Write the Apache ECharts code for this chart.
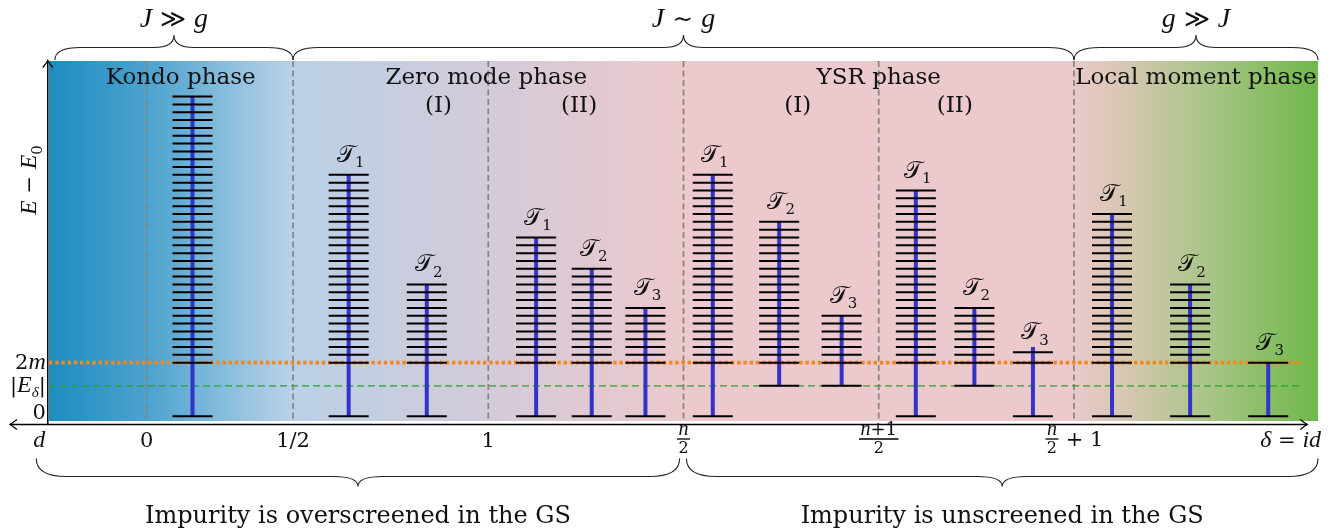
<!DOCTYPE html>
<html>
<head>
<meta charset="utf-8">
<title>Phase diagram</title>
<script src="https://cdn.jsdelivr.net/npm/echarts@6.0.0/dist/echarts.min.js"></script>
<style>
  html, body { margin: 0; padding: 0; background: #fff; }
  #chart { width: 1344px; height: 531px; }
</style>
</head>
<body>
<div id="chart"></div>
<script>
// x: one unit = half the distance between two phase borders, y: one unit = one level spacing
const xRange = [0, 13];
const yRange = [-0.6, 45.4];
const twoM = 6.85;     // 2m
const eDelta = 3.9;    // |E_delta|

// phase borders and titles
const dividers = [1, 2.5, 4.5, 6.5, 8.5, 10.5];
const phaseNames = ['Kondo phase', 'Zero mode phase', 'YSR phase', 'Local moment phase'];
const phaseX = [1.35, 4.48, 8.5, 11.75];
const subPhaseNames = ['(I)', '(II)', '(I)', '(II)'];
const subPhaseX = [3.99, 5.43, 7.67, 9.28];

// level stacks
const stackX = [1.47, 3.07, 3.87, 4.99, 5.56, 6.11, 6.80, 7.48, 8.12, 8.88, 9.48, 10.08, 10.89, 11.69, 12.49];
const stackLevels = [34, 24, 10, 16, 12, 7, 24, 18, 6, 22, 7, 1, 19, 10, 0]; // levels above 2m
const stackStep = [1, 1, 1, 1, 1, 1, 1, 1, 1, 1, 1, 1.33, 1, 1, 1];
const stackBottom = [0, 0, 0, 0, 0, 0, 0, eDelta, eDelta, 0, eDelta, 0, 0, 0, 0];
const stackBlueExtra = [0, 0, 0, 0, 0, 0, 0, 0, 0, 0, 0, 0.68, 0, 0, 0];
const stackTag = ['', '1', '2', '1', '2', '3', '1', '2', '3', '1', '2', '3', '1', '2', '3'];

// braces
const regimeFrom = [0.06, 2.5, 10.5];
const regimeTo = [2.5, 10.5, 13];
const regimeText = ['J ≫ g', 'J ∼ g', 'g ≫ J'];
const screenFrom = [-0.13, 6.53];
const screenTo = [6.46, 13];
const screenText = ['Impurity is overscreened in the GS', 'Impurity is unscreened in the GS'];

// delta axis labels
const tickX = [-0.1, 1, 2.5, 4.5, 6.5, 8.5, 10.5, 12.72];
const tickText = ['d', '0', '1/2', '1', '', '', ' + 1', 'δ = id'];
const tickNum = ['', '', '', '', 'n', 'n+1', 'n', ''];
const tickDen = ['', '', '', '', '2', '2', '2', ''];

// energy axis labels
const energyY = [twoM, eDelta, 0];
const energyText = ['2m', '|E_δ|', '0'];

const SERIF = 'DejaVu Serif';
const MATH = 'Liberation Serif';

const measureCtx = document.createElement('canvas').getContext('2d');
function fontCss(p) {
  return (p.it ? 'italic ' : '') + p.size + 'px "' + p.fam + '"';
}
function textWidth(p) {
  measureCtx.font = fontCss(p);
  return measureCtx.measureText(p.t).width;
}
function isLetter(c) {
  return /[a-zA-Zδ]/.test(c);
}
// plain math parser: letters italic, "_x" subscript
function parseMath(str, size) {
  const out = [];
  for (let k = 0; k < str.length; k++) {
    let c = str[k];
    if (c === '_') {
      c = str[++k];
      out.push({t: c, fam: isLetter(c) ? MATH : SERIF, it: isLetter(c), size: Math.round(size * 0.7), dy: size * 0.25});
      continue;
    }
    if (isLetter(c)) out.push({t: c, fam: MATH, it: true, size: Math.round(size * 1.12), dy: 0});
    else out.push({t: c, fam: SERIF, it: false, size: size, dy: 0});
  }
  return out;
}
// lays pieces out along a baseline
function mathRun(x, y, pieces, align) {
  const w = pieces.map(textWidth);
  const total = w.reduce((a, b) => a + b, 0);
  let cx = align === 'center' ? x - total / 2 : (align === 'right' ? x - total : x);
  return pieces.map((p, k) => {
    const el = {
      type: 'text', x: cx, y: y + (p.dy || 0) - 0.3 * p.size, silent: true,
      style: {text: p.t, fontFamily: p.fam, fontSize: p.size, fontStyle: p.it ? 'italic' : 'normal',
        fill: '#111', align: 'left', verticalAlign: 'middle'}
    };
    cx += w[k];
    return el;
  });
}
function plainText(x, y, str, size, align) {
  return mathRun(x, y, [{t: str, fam: SERIF, it: false, size: size, dy: 0}], align || 'center');
}
function seg(x1, y1, x2, y2, w) {
  return {type: 'line', silent: true, shape: {x1, y1, x2, y2}, style: {stroke: '#000', lineWidth: w}};
}
function arrow(x, y, dir) {
  let d;
  if (dir === 'right') d = `M${x - 7},${y - 5} Q${x - 2},${y - 1} ${x},${y} Q${x - 2},${y + 1} ${x - 7},${y + 5}`;
  else if (dir === 'left') d = `M${x + 7},${y - 5} Q${x + 2},${y - 1} ${x},${y} Q${x + 2},${y + 1} ${x + 7},${y + 5}`;
  else d = `M${x - 5},${y + 7} Q${x - 1},${y + 2} ${x},${y} Q${x + 1},${y + 2} ${x + 5},${y + 7}`;
  return {type: 'path', silent: true, shape: {pathData: d}, style: {stroke: '#000', fill: null, lineWidth: 1.3}};
}
function brace(x0, x1, yEnd, yLine, yTip, r, rt) {
  const m = (x0 + x1) / 2;
  const d = `M${x0},${yEnd} Q${x0},${yLine} ${x0 + r},${yLine} L${m - rt},${yLine} Q${m},${yLine} ${m},${yTip} ` +
    `Q${m},${yLine} ${m + rt},${yLine} L${x1 - r},${yLine} Q${x1},${yLine} ${x1},${yEnd}`;
  return {type: 'path', silent: true, shape: {pathData: d}, style: {stroke: '#222', fill: null, lineWidth: 1.1}};
}

const bgStops = [
  {offset: 0, color: '#1c8dc0'},
  {offset: 0.08, color: '#4ea3cf'},
  {offset: 0.15, color: '#93c2df'},
  {offset: 0.19, color: '#b9d0e6'},
  {offset: 0.34, color: '#d2cbd9'},
  {offset: 0.45, color: '#e5c9d0'},
  {offset: 0.5, color: '#ebc9cd'},
  {offset: 0.805, color: '#ebc9cc'},
  {offset: 0.845, color: '#d8c7b3'},
  {offset: 0.91, color: '#abc589'},
  {offset: 1, color: '#6fb84a'}
];

function renderBackground(params, api) {
  const p0 = api.coord([xRange[0], yRange[1]]);
  const p1 = api.coord([xRange[1], yRange[0]]);
  return {type: 'rect', silent: true, shape: {x: p0[0], y: p0[1], width: p1[0] - p0[0], height: p1[1] - p0[1]},
    style: {fill: new echarts.graphic.LinearGradient(0, 0, 1, 0, bgStops)}};
}

function renderDivider(params, api) {
  const a = api.coord([api.value(0), yRange[1]]);
  const b = api.coord([api.value(0), yRange[0]]);
  return {type: 'line', silent: true, shape: {x1: a[0], y1: a[1], x2: b[0], y2: b[1]},
    style: {stroke: '#858585', lineWidth: 1.7, lineDash: [6, 3.5]}};
}

function renderThreshold(params, api) {
  const v = api.value(1);
  const a = api.coord([xRange[0], v]);
  const b = api.coord([12.84, v]);
  const isM = params.dataIndex === 0;
  return {type: 'line', silent: true, shape: {x1: a[0], y1: a[1], x2: b[0], y2: b[1]},
    style: isM ? {stroke: '#f5861a', lineWidth: 3.8, lineDash: [3.4, 2.8]}
               : {stroke: '#2f9e2f', lineWidth: 1.2, lineDash: [7, 4]}};
}

function renderStack(params, api) {
  const i = params.dataIndex;
  const x = api.value(0), n = api.value(1), step = api.value(2), bottom = api.value(3), extra = api.value(4);
  const levels = [bottom];
  for (let k = 0; k <= n; k++) levels.push(twoM + k * step);
  const top = levels[levels.length - 1];
  const half = api.size([0.205, 0])[0];
  const kids = [];
  const b = api.coord([x, bottom]), t = api.coord([x, top + extra]);
  kids.push({type: 'line', silent: true, shape: {x1: b[0], y1: b[1], x2: t[0], y2: t[1]},
    style: {stroke: '#3333c9', lineWidth: 4}});
  levels.forEach(v => {
    const p = api.coord([x, v]);
    kids.push(seg(p[0] - half, p[1], p[0] + half, p[1], 2));
  });
  if (stackTag[i]) {
    const p = api.coord([x, top]);
    kids.push(...mathRun(p[0] + 2, p[1] - 12, [
      {t: '𝒯', fam: 'DejaVu Sans', it: false, size: 24, dy: 0},
      {t: stackTag[i], fam: SERIF, it: false, size: 15, dy: 5}
    ], 'center'));
  }
  return {type: 'group', children: kids};
}

function renderNotes(params, api) {
  const kids = [];
  const px = x => api.coord([x, 0])[0];
  const py = y => api.coord([0, y])[1];
  const gLeft = px(xRange[0]);
  const gTop = py(yRange[1]);
  const gBottom = py(yRange[0]);
  const axisY = gBottom + 3.5;
  const axisX = gLeft - 1.2;

  // axes
  kids.push(seg(axisX, axisY, axisX, gTop, 1.5));
  kids.push(arrow(axisX, gTop - 0.5, 'up'));
  kids.push(seg(px(-0.4), axisY, px(12.89), axisY, 1.4));
  kids.push(arrow(px(-0.4), axisY, 'left'));
  kids.push(arrow(px(12.89), axisY, 'right'));

  // phase titles
  phaseNames.forEach((s, k) => kids.push(...plainText(px(phaseX[k]), gTop + 24, s, 23)));
  subPhaseNames.forEach((s, k) => kids.push(...plainText(px(subPhaseX[k]), gTop + 52, s, 23)));

  // regime braces on top
  regimeText.forEach((s, k) => {
    const a = px(regimeFrom[k]), b = px(regimeTo[k]);
    kids.push(brace(a, b, gTop - 1, gTop - 13.5, gTop - 26, 26, 20));
    kids.push(...mathRun((a + b) / 2, gTop - 33, parseMath(s, 25), 'center'));
  });

  // screening braces below
  screenText.forEach((s, k) => {
    const a = px(screenFrom[k]), b = px(screenTo[k]);
    kids.push(brace(a, b, axisY + 34, axisY + 52, axisY + 62, 30, 25));
    kids.push(...plainText((a + b) / 2, axisY + 99.5, s, 24));
  });

  // delta axis labels
  tickX.forEach((x, k) => {
    const cx = px(x);
    if (tickNum[k]) {
      const fx = tickText[k] ? cx - 22 : cx;
      const num = parseMath(tickNum[k], 18);
      const den = parseMath(tickDen[k], 16);
      const nw = num.map(textWidth).reduce((a, b) => a + b, 0);
      kids.push(...mathRun(fx, axisY + 11.5, num, 'center'));
      kids.push(seg(fx - nw / 2 - 1.5, axisY + 14.5, fx + nw / 2 + 1.5, axisY + 14.5, 1.3));
      kids.push(...mathRun(fx, axisY + 29, den, 'center'));
      if (tickText[k]) kids.push(...mathRun(fx + nw / 2 + 2, axisY + 22, parseMath(tickText[k], 21), 'left'));
    } else {
      kids.push(...mathRun(cx, axisY + 23.5, parseMath(tickText[k], 21), 'center'));
    }
  });

  // energy labels
  energyY.forEach((v, k) => {
    const off = v === 0 ? 4 : 7;
    kids.push(...mathRun(axisX - 2, py(v) + off, parseMath(energyText[k], 21), 'right'));
  });

  // axis title, rotated
  kids.push({type: 'group', x: 37, y: 180, rotation: Math.PI / 2,
    children: mathRun(0, 0, parseMath('E − E_0', 21), 'center')});

  return {type: 'group', children: kids};
}

const chart = echarts.init(document.getElementById('chart'));
chart.setOption({
  animation: false,
  grid: {left: 49, right: 26, top: 61, bottom: 110},
  xAxis: {type: 'value', min: xRange[0], max: xRange[1], show: false},
  yAxis: {type: 'value', min: yRange[0], max: yRange[1], show: false},
  series: [
    {type: 'custom', name: 'background', renderItem: renderBackground, data: [[0, 0]], z: 1},
    {type: 'custom', name: 'borders', renderItem: renderDivider, data: dividers.map(x => [x, 0]), z: 2},
    {type: 'custom', name: 'thresholds', renderItem: renderThreshold,
      data: [[0, twoM], [0, eDelta]], z: 3},
    {type: 'custom', name: 'levels', renderItem: renderStack, z: 4,
      data: stackX.map((x, i) => [x, stackLevels[i], stackStep[i], stackBottom[i], stackBlueExtra[i]])},
    {type: 'custom', name: 'notes', renderItem: renderNotes, data: [[0, 0]], z: 5}
  ]
});
</script>
</body>
</html>
